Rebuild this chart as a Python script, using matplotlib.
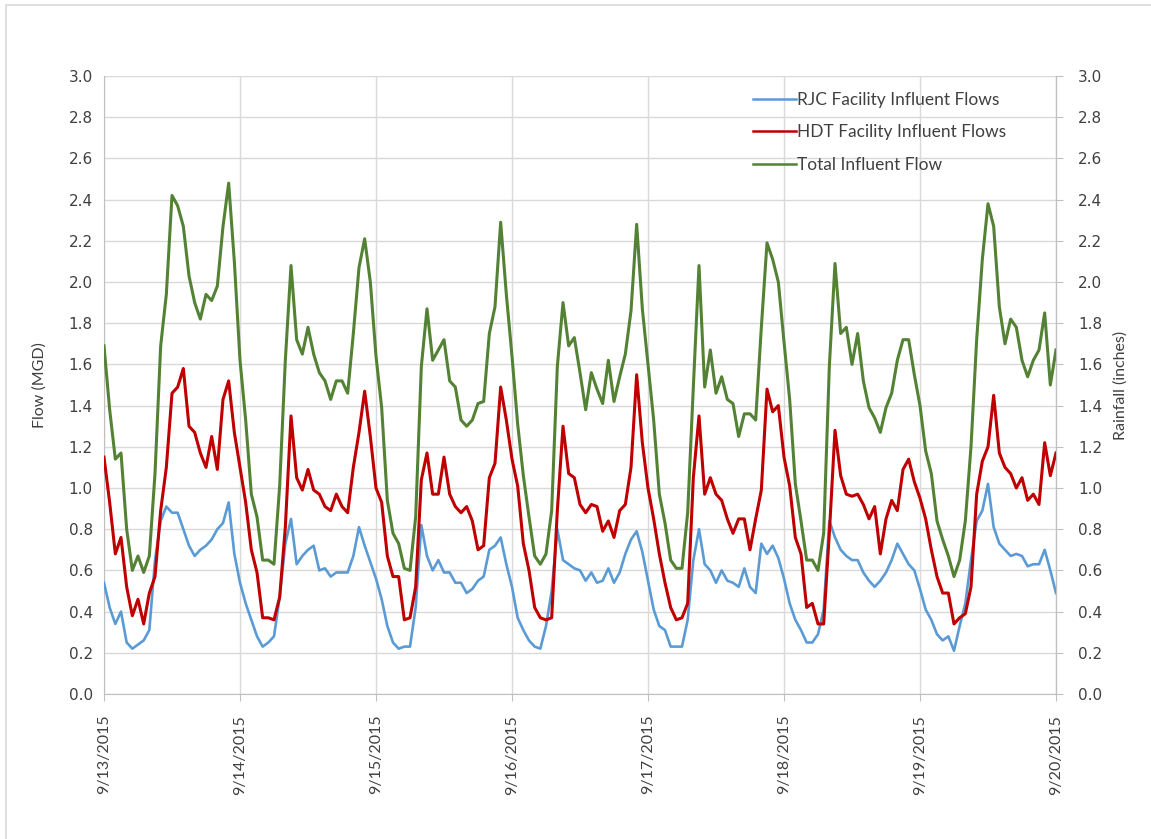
import numpy as np
import pandas as pd
import matplotlib
matplotlib.use('Agg')
import matplotlib.pyplot as plt
import matplotlib.dates as mdates
from matplotlib.lines import Line2D
from matplotlib.patches import Rectangle

# hourly readings, 9/13/2015 00:00 through 9/20/2015 00:00 (MGD)
rjc = [
    0.54, 0.42, 0.34, 0.40, 0.25, 0.22, 0.24, 0.26, 0.31, 0.65, 0.84, 0.91,
    0.88, 0.88, 0.80, 0.72, 0.67, 0.70, 0.72, 0.75, 0.80, 0.83, 0.93, 0.68,
    0.54, 0.44, 0.36, 0.28, 0.23, 0.25, 0.28, 0.47, 0.73, 0.85, 0.63, 0.67,
    0.70, 0.72, 0.60, 0.61, 0.57, 0.59, 0.59, 0.59, 0.67, 0.81, 0.72, 0.64,
    0.56, 0.46, 0.33, 0.25, 0.22, 0.23, 0.23, 0.42, 0.82, 0.67, 0.60, 0.65,
    0.59, 0.59, 0.54, 0.54, 0.49, 0.51, 0.55, 0.57, 0.70, 0.72, 0.76, 0.63,
    0.52, 0.37, 0.31, 0.26, 0.23, 0.22, 0.33, 0.50, 0.80, 0.65, 0.63, 0.61,
    0.60, 0.55, 0.59, 0.54, 0.55, 0.61, 0.54, 0.59, 0.68, 0.75, 0.79, 0.69,
    0.55, 0.41, 0.33, 0.31, 0.23, 0.23, 0.23, 0.36, 0.65, 0.80, 0.63, 0.60,
    0.54, 0.60, 0.55, 0.54, 0.52, 0.61, 0.52, 0.49, 0.73, 0.68, 0.72, 0.66,
    0.56, 0.44, 0.36, 0.31, 0.25, 0.25, 0.29, 0.41, 0.84, 0.76, 0.70, 0.67,
    0.65, 0.65, 0.59, 0.55, 0.52, 0.55, 0.59, 0.65, 0.73, 0.68, 0.63, 0.60,
    0.51, 0.41, 0.36, 0.29, 0.26, 0.28, 0.21, 0.33, 0.44, 0.65, 0.84, 0.89,
    1.02, 0.81, 0.73, 0.70, 0.67, 0.68, 0.67, 0.62, 0.63, 0.63, 0.70, 0.60,
    0.49,
]
hdt = [
    1.15, 0.93, 0.68, 0.76, 0.52, 0.38, 0.46, 0.34, 0.49, 0.57, 0.89, 1.10,
    1.46, 1.49, 1.58, 1.30, 1.27, 1.17, 1.10, 1.25, 1.09, 1.43, 1.52, 1.27,
    1.10, 0.93, 0.70, 0.59, 0.37, 0.37, 0.36, 0.47, 0.81, 1.35, 1.05, 0.99,
    1.09, 0.99, 0.97, 0.91, 0.89, 0.97, 0.91, 0.88, 1.10, 1.27, 1.47, 1.25,
    1.00, 0.93, 0.67, 0.57, 0.57, 0.36, 0.37, 0.52, 1.04, 1.17, 0.97, 0.97,
    1.15, 0.97, 0.91, 0.88, 0.91, 0.84, 0.70, 0.72, 1.05, 1.12, 1.49, 1.33,
    1.14, 1.01, 0.73, 0.60, 0.42, 0.37, 0.36, 0.37, 0.89, 1.30, 1.07, 1.05,
    0.92, 0.88, 0.92, 0.91, 0.79, 0.84, 0.76, 0.89, 0.92, 1.10, 1.55, 1.22,
    1.00, 0.85, 0.68, 0.54, 0.42, 0.36, 0.37, 0.44, 1.05, 1.35, 0.97, 1.05,
    0.97, 0.94, 0.85, 0.78, 0.85, 0.85, 0.70, 0.85, 0.99, 1.48, 1.37, 1.40,
    1.15, 1.01, 0.76, 0.68, 0.42, 0.44, 0.34, 0.34, 0.78, 1.28, 1.06, 0.97,
    0.96, 0.97, 0.92, 0.85, 0.91, 0.68, 0.85, 0.94, 0.89, 1.09, 1.14, 1.03,
    0.95, 0.85, 0.70, 0.57, 0.49, 0.49, 0.34, 0.37, 0.39, 0.52, 0.97, 1.13,
    1.20, 1.45, 1.17, 1.10, 1.07, 1.00, 1.05, 0.94, 0.97, 0.92, 1.22, 1.06,
    1.17,
]
total = [
    1.69, 1.38, 1.14, 1.17, 0.80, 0.60, 0.67, 0.59, 0.67, 1.07, 1.69, 1.94,
    2.42, 2.37, 2.27, 2.03, 1.90, 1.82, 1.94, 1.91, 1.98, 2.27, 2.48, 2.10,
    1.62, 1.33, 0.97, 0.86, 0.65, 0.65, 0.63, 1.01, 1.62, 2.08, 1.72, 1.65,
    1.78, 1.65, 1.56, 1.52, 1.43, 1.52, 1.52, 1.46, 1.75, 2.07, 2.21, 2.00,
    1.64, 1.39, 0.94, 0.78, 0.73, 0.61, 0.60, 0.86, 1.59, 1.87, 1.62, 1.67,
    1.72, 1.52, 1.49, 1.33, 1.30, 1.33, 1.41, 1.42, 1.75, 1.88, 2.29, 1.94,
    1.64, 1.31, 1.06, 0.86, 0.67, 0.63, 0.68, 0.89, 1.59, 1.90, 1.69, 1.73,
    1.56, 1.38, 1.56, 1.48, 1.41, 1.62, 1.42, 1.54, 1.65, 1.86, 2.28, 1.87,
    1.60, 1.33, 0.97, 0.83, 0.65, 0.61, 0.61, 0.88, 1.49, 2.08, 1.49, 1.67,
    1.46, 1.54, 1.43, 1.41, 1.25, 1.36, 1.36, 1.33, 1.78, 2.19, 2.11, 2.00,
    1.71, 1.43, 1.02, 0.84, 0.65, 0.65, 0.60, 0.78, 1.59, 2.09, 1.75, 1.78,
    1.60, 1.75, 1.52, 1.39, 1.34, 1.27, 1.39, 1.46, 1.62, 1.72, 1.72, 1.55,
    1.40, 1.18, 1.07, 0.84, 0.75, 0.67, 0.57, 0.65, 0.84, 1.20, 1.72, 2.11,
    2.38, 2.27, 1.88, 1.70, 1.82, 1.78, 1.62, 1.54, 1.62, 1.67, 1.85, 1.50,
    1.67,
]
series_names = ['RJC Facility Influent Flows', 'HDT Facility Influent Flows', 'Total Influent Flow']
colors = ['#5b9bd5', '#c00000', '#548235']

times = pd.date_range('2015-09-13', periods=len(rjc), freq='h')
day_ticks = pd.date_range('2015-09-13', '2015-09-20', freq='D')
y_ticks = np.arange(0, 3.01, 0.2)


def date_label(v, pos):
    d = mdates.num2date(v)
    return f'{d.month}/{d.day}/{d.year}'


fig = plt.figure(figsize=(11.51, 8.39), dpi=100)
ax = fig.add_axes([104 / 1151, 1 - 694 / 839, 952 / 1151, 618 / 839])

ax.plot(times, rjc, color=colors[0], lw=1.9, zorder=3)
ax.plot(times, hdt, color=colors[1], lw=2.2, zorder=4)
ax.plot(times, total, color=colors[2], lw=2.2, zorder=5)

ax.set_xlim(day_ticks[0], day_ticks[-1])
ax.set_ylim(0, 3.0)
ax.set_yticks(y_ticks)
ax.set_yticklabels([f'{v:.1f}' for v in y_ticks], fontsize=11, family='DejaVu Sans', color='#404040')
ax.set_xticks(day_ticks)
ax.xaxis.set_major_formatter(plt.FuncFormatter(date_label))
for lab in ax.get_xticklabels():
    lab.set_rotation(90)
    lab.set_fontsize(11.5)
    lab.set_family('Lato')
    lab.set_color('#404040')

ax.grid(True, color='#d9d9d9', lw=1.0, zorder=0)
ax.set_axisbelow(True)
ax.spines['top'].set_visible(False)
for s in ['left', 'bottom', 'right']:
    ax.spines[s].set_color('#bfbfbf')
ax.tick_params(axis='y', length=0, pad=8)
ax.tick_params(axis='x', length=5, color='#bfbfbf', pad=10)
ax.set_ylabel('Flow (MGD)', fontsize=11.5, family='Lato', color='#404040', labelpad=16)

ax2 = ax.twinx()
ax2.set_ylim(0, 3.0)
ax2.set_yticks(y_ticks)
ax2.set_yticklabels([f'{v:.1f}' for v in y_ticks], fontsize=11, family='DejaVu Sans', color='#404040')
ax2.tick_params(axis='y', length=5, color='#bfbfbf', pad=11)
for s in ['top', 'left', 'bottom']:
    ax2.spines[s].set_visible(False)
ax2.spines['right'].set_color('#bfbfbf')
ax2.set_ylabel('Rainfall (inches)', fontsize=11.5, family='Lato', color='#404040', rotation=90, labelpad=8)

handles = [Line2D([], [], color=c, lw=1.8) for c in colors]
ax.legend(handles, series_names, loc='upper left', bbox_to_anchor=(0.665, 1.0), frameon=False,
          prop={'family': 'Lato', 'size': 12.5}, handlelength=2.5, handletextpad=0.05, labelspacing=0.95,
          labelcolor='#404040')

# chart area border
fig.patches.append(Rectangle((6 / 1151, -0.02), 1.05, 1 - 5 / 839 + 0.02, transform=fig.transFigure,
                             fill=False, edgecolor='#d9d9d9', lw=1.2))

fig.savefig('out.png', dpi=100, facecolor='white')
